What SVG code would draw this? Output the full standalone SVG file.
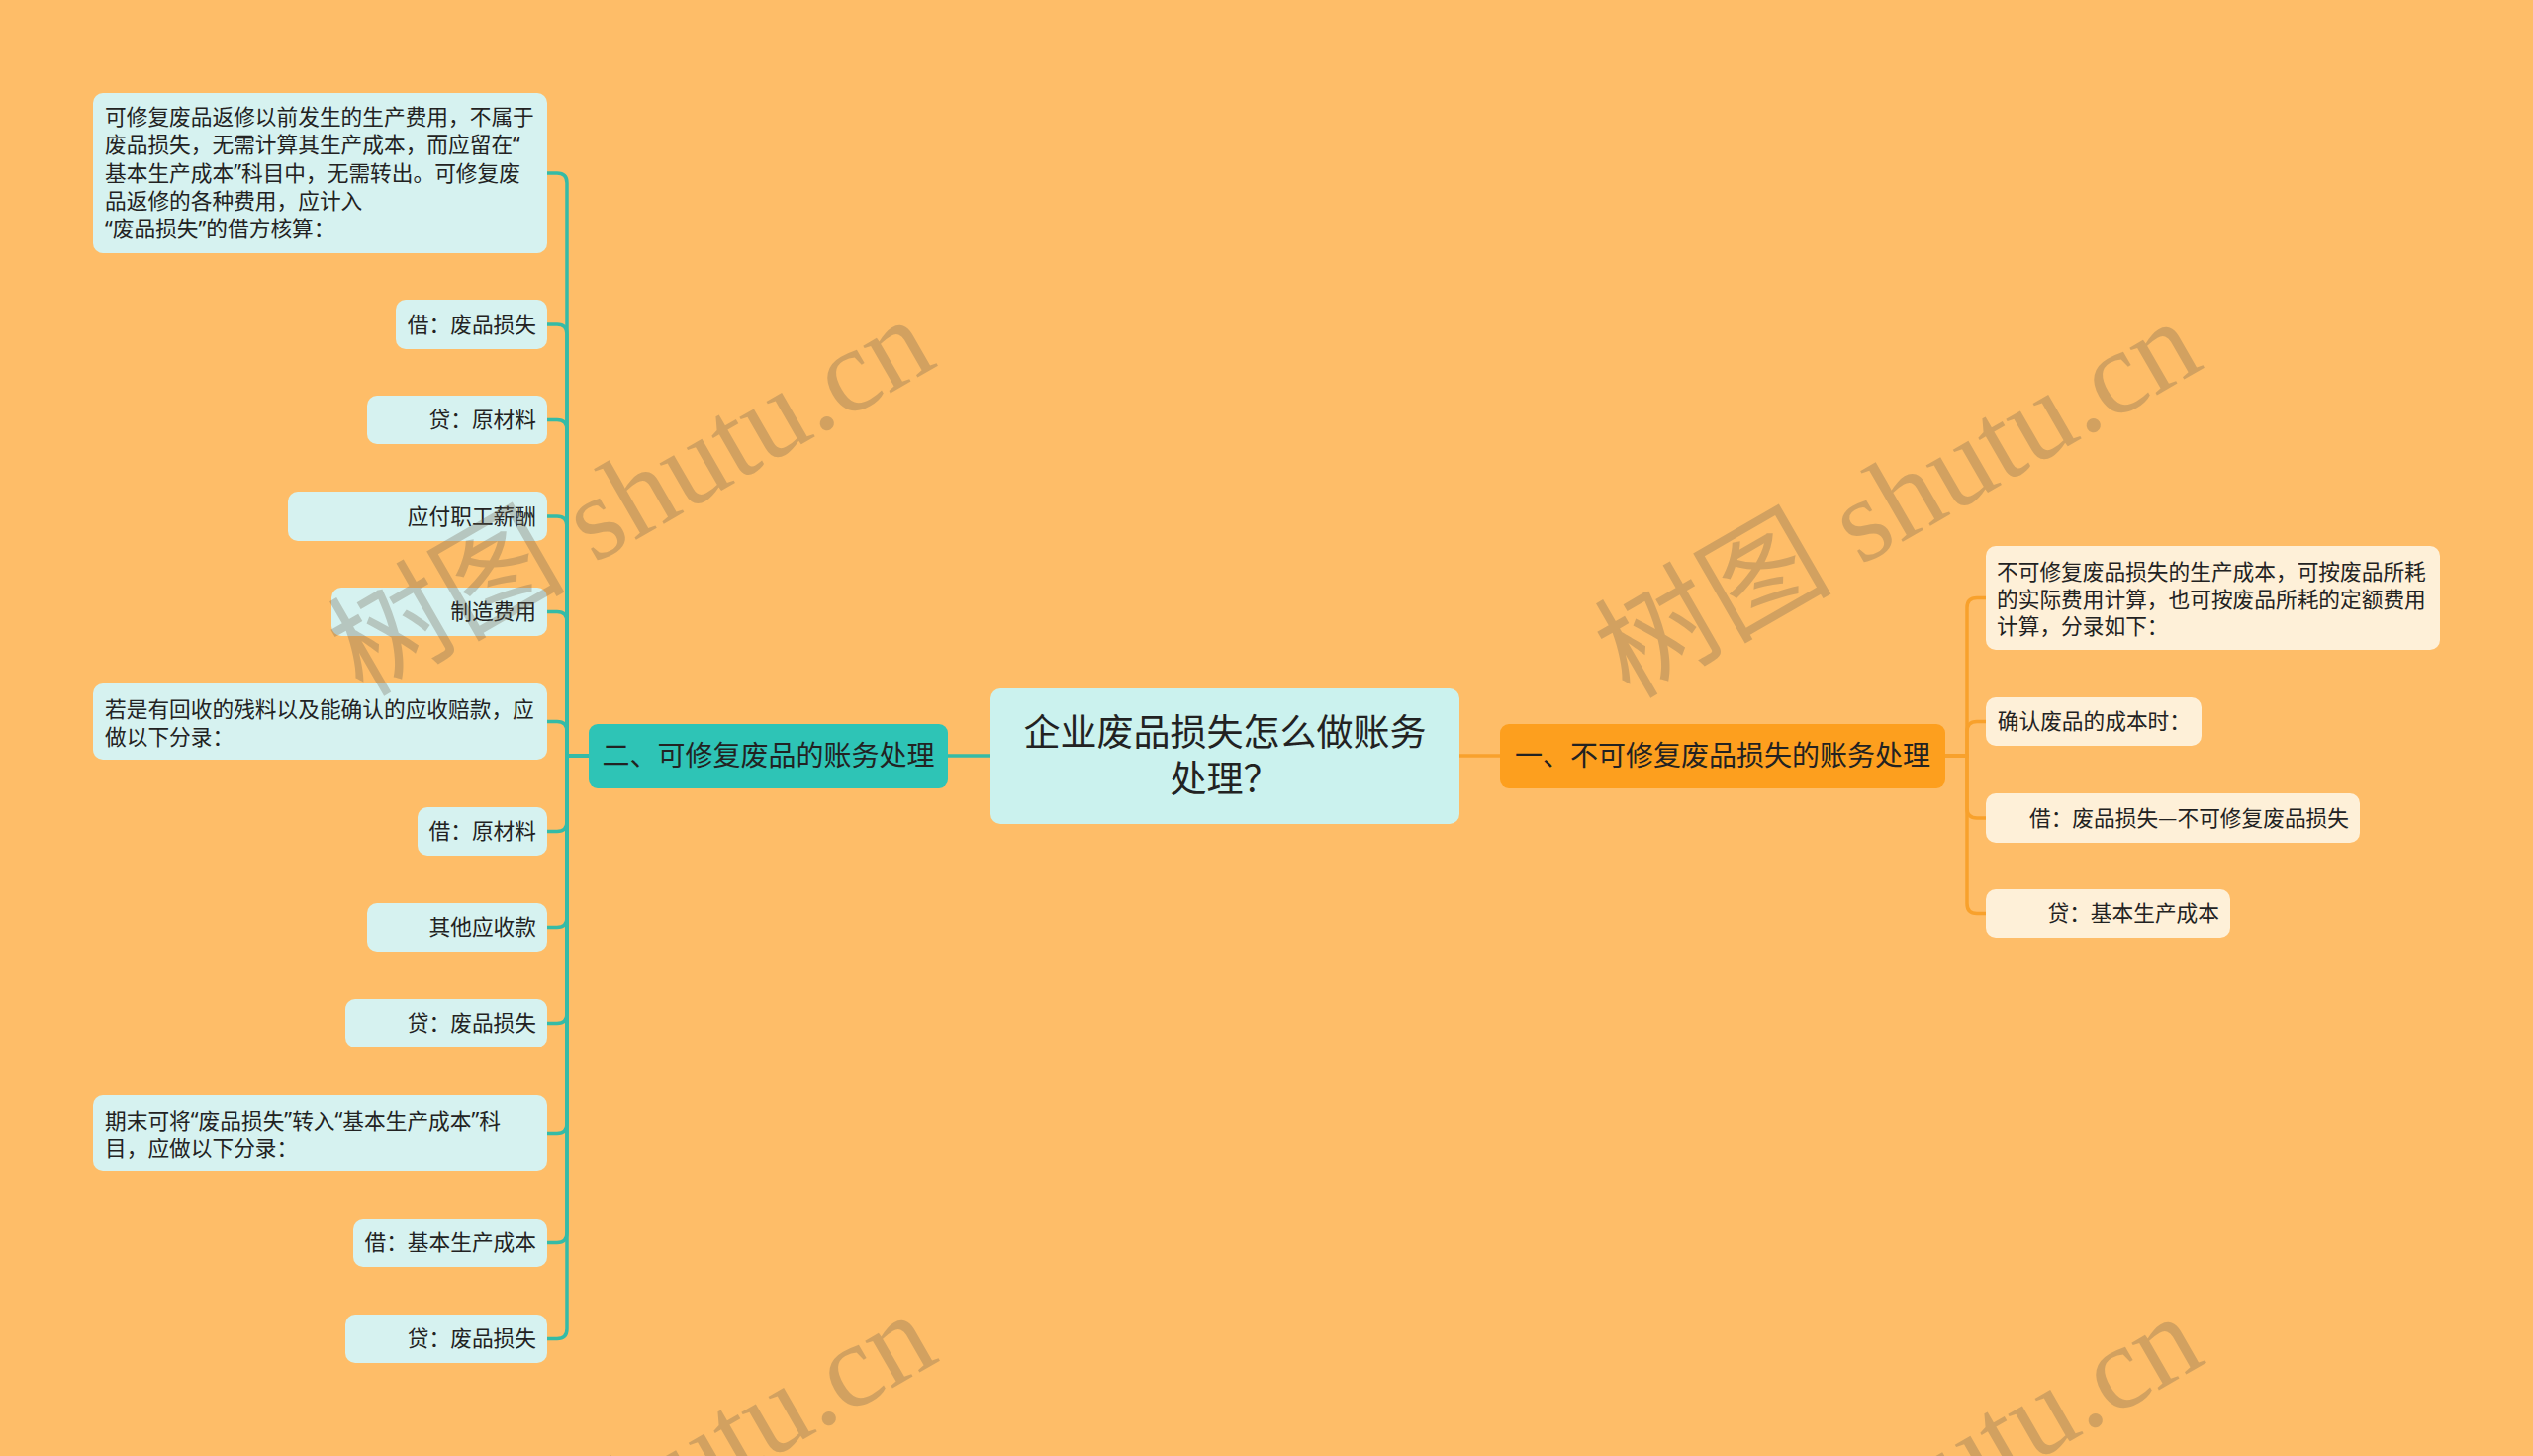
<svg xmlns="http://www.w3.org/2000/svg" width="2560" height="1472" viewBox="0 0 2560 1472">
<style>
  text { font-family: "Noto Sans CJK SC", "Noto Sans", sans-serif; fill: #222222; dominant-baseline: central; }
  .q { font-family: "Noto Sans", "Liberation Sans", sans-serif; }
  .leaf { fill: #D6F2F0; }
  .rleaf { fill: #FEF0D8; }
  .t { font-size: 21.7px; }
  .end { text-anchor: end; }
  .topic { font-size: 28px; text-anchor: middle; }
  .root { font-size: 37px; text-anchor: middle; }
  .lc { fill: none; stroke: #35BBA6; stroke-width: 3.5; }
  .rc { fill: none; stroke: #F8A12C; stroke-width: 3.5; }
  .wm { font-family: "Liberation Serif", "Noto Sans CJK SC", serif; font-size: 120px; fill: #6E6450; opacity: 0.3; text-anchor: middle; dominant-baseline: auto; }
</style>
<rect x="0" y="0" width="2560" height="1472" fill="#FEBD68"/>

<g id="connectors">
  <path class="lc" d="M1001 764 H958"/>
  <path class="rc" d="M1475 764 H1516"/>
  <path class="lc" d="M595 764 H573 V185 Q573 175 563 175 H553"/>
  <path class="lc" d="M595 764 H573 V338 Q573 328 563 328 H553"/>
  <path class="lc" d="M595 764 H573 V434.5 Q573 424.5 563 424.5 H553"/>
  <path class="lc" d="M595 764 H573 V532 Q573 522 563 522 H553"/>
  <path class="lc" d="M595 764 H573 V628.5 Q573 618.5 563 618.5 H553"/>
  <path class="lc" d="M595 764 H573 V739.5 Q573 729.5 563 729.5 H553"/>
  <path class="lc" d="M595 764 H573 V830.5 Q573 840.5 563 840.5 H553"/>
  <path class="lc" d="M595 764 H573 V927.5 Q573 937.5 563 937.5 H553"/>
  <path class="lc" d="M595 764 H573 V1024.5 Q573 1034.5 563 1034.5 H553"/>
  <path class="lc" d="M595 764 H573 V1135.5 Q573 1145.5 563 1145.5 H553"/>
  <path class="lc" d="M595 764 H573 V1246.5 Q573 1256.5 563 1256.5 H553"/>
  <path class="lc" d="M595 764 H573 V1343.5 Q573 1353.5 563 1353.5 H553"/>
  <path class="rc" d="M1966 764 H1988 V614.5 Q1988 604.5 1998 604.5 H2007"/>
  <path class="rc" d="M1966 764 H1988 V739.5 Q1988 729.5 1998 729.5 H2007"/>
  <path class="rc" d="M1966 764 H1988 V817 Q1988 827 1998 827 H2007"/>
  <path class="rc" d="M1966 764 H1988 V913.5 Q1988 923.5 1998 923.5 H2007"/>
</g>

<g id="root">
  <rect x="1001" y="696" width="474" height="137" rx="10" fill="#CBF2EE"/>
  <text class="root"><tspan x="1238" y="738">企业废品损失怎么做账务</tspan><tspan x="1238" y="785">处理？</tspan></text>
</g>

<g id="topic-left">
  <rect x="595" y="732" width="363" height="65" rx="9" fill="#2EC4B6"/>
  <text class="topic" x="776.5" y="762">二、可修复废品的账务处理</text>
</g>

<g id="topic-right">
  <rect x="1516" y="732" width="450" height="65" rx="9" fill="#FD9F1E"/>
  <text class="topic" x="1741" y="762">一、不可修复废品损失的账务处理</text>
</g>

<g id="l1">
  <rect class="leaf" x="94" y="94" width="459" height="162" rx="10"/>
  <text class="t" x="106" y="116.5">可修复废品返修以前发生的生产费用，不属于</text>
  <text class="t" x="106" y="144.8">废品损失，无需计算其生产成本，而应留在<tspan class="q">“</tspan></text>
  <text class="t" x="106" y="173.1">基本生产成本<tspan class="q">”</tspan>科目中，无需转出。可修复废</text>
  <text class="t" x="106" y="201.4">品返修的各种费用，应计入</text>
  <text class="t" x="106" y="229.7"><tspan class="q">“</tspan>废品损失<tspan class="q">”</tspan>的借方核算：</text>
</g>
<g id="l2">
  <rect class="leaf" x="400" y="303" width="153" height="50" rx="10"/>
  <text class="t end" x="542" y="326.3">借：废品损失</text>
</g>
<g id="l3">
  <rect class="leaf" x="371" y="400" width="182" height="49" rx="10"/>
  <text class="t end" x="542" y="422.8">贷：原材料</text>
</g>
<g id="l4">
  <rect class="leaf" x="291" y="497" width="262" height="50" rx="10"/>
  <text class="t end" x="542" y="520.3">应付职工薪酬</text>
</g>
<g id="l5">
  <rect class="leaf" x="335" y="594" width="218" height="49" rx="10"/>
  <text class="t end" x="542" y="616.8">制造费用</text>
</g>
<g id="l6">
  <rect class="leaf" x="94" y="691" width="459" height="77" rx="10"/>
  <text class="t" x="106" y="715">若是有回收的残料以及能确认的应收赔款，应</text>
  <text class="t" x="106" y="743.3">做以下分录：</text>
</g>
<g id="l7">
  <rect class="leaf" x="422" y="816" width="131" height="49" rx="10"/>
  <text class="t end" x="542" y="838.8">借：原材料</text>
</g>
<g id="l8">
  <rect class="leaf" x="371" y="913" width="182" height="49" rx="10"/>
  <text class="t end" x="542" y="935.8">其他应收款</text>
</g>
<g id="l9">
  <rect class="leaf" x="349" y="1010" width="204" height="49" rx="10"/>
  <text class="t end" x="542" y="1032.8">贷：废品损失</text>
</g>
<g id="l10">
  <rect class="leaf" x="94" y="1107" width="459" height="77" rx="10"/>
  <text class="t" x="106" y="1131">期末可将<tspan class="q">“</tspan>废品损失<tspan class="q">”</tspan>转入<tspan class="q">“</tspan>基本生产成本<tspan class="q">”</tspan>科</text>
  <text class="t" x="106" y="1159.3">目，应做以下分录：</text>
</g>
<g id="l11">
  <rect class="leaf" x="357" y="1232" width="196" height="49" rx="10"/>
  <text class="t end" x="542" y="1254.8">借：基本生产成本</text>
</g>
<g id="l12">
  <rect class="leaf" x="349" y="1329" width="204" height="49" rx="10"/>
  <text class="t end" x="542" y="1351.8">贷：废品损失</text>
</g>

<g id="r1">
  <rect class="rleaf" x="2007" y="552" width="459" height="105" rx="10"/>
  <text class="t" x="2018" y="576.6">不可修复废品损失的生产成本，可按废品所耗</text>
  <text class="t" x="2018" y="604.3">的实际费用计算，也可按废品所耗的定额费用</text>
  <text class="t" x="2018" y="631.8">计算，分录如下：</text>
</g>
<g id="r2">
  <rect class="rleaf" x="2007" y="705" width="218" height="49" rx="10"/>
  <text class="t end" x="2214" y="727.8">确认废品的成本时：</text>
</g>
<g id="r3">
  <rect class="rleaf" x="2007" y="802" width="378" height="50" rx="10"/>
  <text class="t end" x="2374" y="825.3">借：废品损失—不可修复废品损失</text>
</g>
<g id="r4">
  <rect class="rleaf" x="2007" y="899" width="247" height="49" rx="10"/>
  <text class="t end" x="2243" y="921.8">贷：基本生产成本</text>
</g>

<g id="watermark">
  <text class="wm" transform="translate(658 537) rotate(-30)">树图 shutu.cn</text>
  <text class="wm" transform="translate(1938 539) rotate(-30)">树图 shutu.cn</text>
  <text class="wm" transform="translate(660 1543) rotate(-30)">树图 shutu.cn</text>
  <text class="wm" transform="translate(1940 1545) rotate(-30)">树图 shutu.cn</text>
</g>
</svg>
